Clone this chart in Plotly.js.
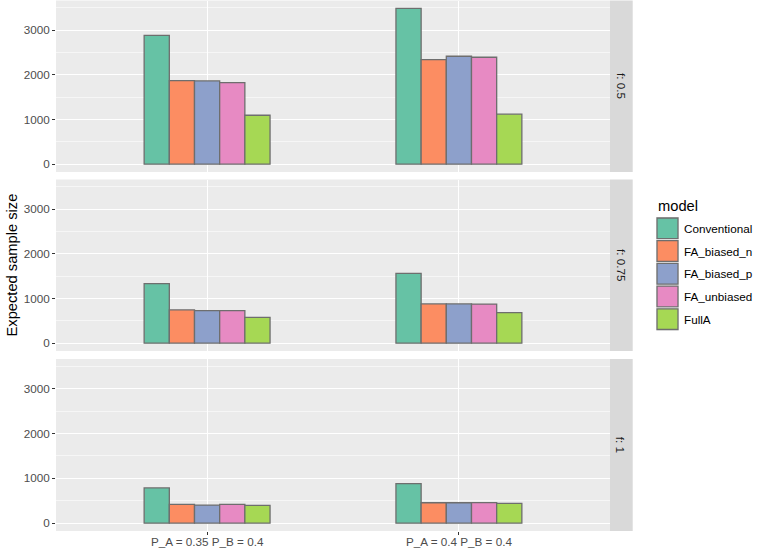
<!DOCTYPE html>
<html>
<head>
<meta charset="utf-8">
<script src="https://cdn.plot.ly/plotly-3.0.1.min.js"></script>
<style>html,body{margin:0;padding:0;background:#fff;}#chart{width:759px;height:550px;}</style>
</head>
<body>
<div id="chart"></div>
<script>
// ---- data ----
const categories = ["P_A = 0.35 P_B = 0.4", "P_A = 0.4 P_B = 0.4"];
const facets = ["f: 0.5", "f: 0.75", "f: 1"];
const models = ["Conventional", "FA_biased_n", "FA_biased_p", "FA_unbiased", "FullA"];
const colors = ["#66C2A5", "#FC8D62", "#8DA0CB", "#E78AC3", "#A6D854"];
// each array: rows = facets (f: 0.5, f: 0.75, f: 1), columns = categories
const conventional = [[2886, 3490], [1332, 1565], [787, 883]];
const faBiasedN    = [[1872, 2342], [745, 880],   [418, 456]];
const faBiasedP    = [[1865, 2416], [730, 880],   [405, 456]];
const faUnbiased   = [[1828, 2394], [730, 877],   [418, 461]];
const fullA        = [[1096, 1119], [580, 685],   [396, 441]];
const seriesValues = [conventional, faBiasedN, faBiasedP, faUnbiased, fullA];
const yTicks = [0, 1000, 2000, 3000];

// ---- layout geometry (pixels) ----
const W = 759, H = 550;
const L = 56, R = 610, T = 0, B = 531;
const pw = R - L, ph = B - T;
const panelsPx = [[0.5, 172], [179.5, 351], [359, 531]];
const px2x = p => (p - L) / pw;
const py2y = p => (B - p) / ph;

const font = "Liberation Sans, Arial, Helvetica, sans-serif";
const yRange = [-174.5, 3664.5];

const traces = [];
facets.forEach((f, i) => {
  const sfx = i === 0 ? "" : String(i + 1);
  models.forEach((m, j) => {
    traces.push({
      type: "bar",
      name: m,
      x: categories,
      y: seriesValues[j][i],
      xaxis: "x" + sfx,
      yaxis: "y" + sfx,
      marker: {color: colors[j], line: {color: "#6e6e6e", width: 1.3}},
      showlegend: false,
      hoverinfo: "x+y+name"
    });
  });
});

const layout = {
  width: W, height: H,
  margin: {l: L, r: W - R, t: T, b: H - B, pad: 0},
  paper_bgcolor: "#ffffff",
  plot_bgcolor: "#EBEBEB",
  barmode: "group",
  bargap: 0.5,
  bargroupgap: 0,
  font: {family: font, color: "#4D4D4D", size: 11.7},
  shapes: [],
  annotations: []
};

facets.forEach((f, i) => {
  const sfx = i === 0 ? "" : String(i + 1);
  const dom = [py2y(panelsPx[i][1]), py2y(panelsPx[i][0])];
  const isBottom = i === facets.length - 1;
  layout["xaxis" + sfx] = {
    domain: [0, 1],
    anchor: "y" + sfx,
    type: "category",
    range: [-0.6, 1.6],
    showgrid: true, gridcolor: "#ffffff", gridwidth: 1.07,
    zeroline: false, showline: false,
    ticks: isBottom ? "outside" : "",
    ticklen: 3, tickwidth: 1.07, tickcolor: "#333333",
    showticklabels: false,
    fixedrange: true
  };
  layout["yaxis" + sfx] = {
    domain: dom,
    anchor: "x" + sfx,
    range: yRange,
    tickvals: yTicks,
    ticktext: yTicks.map(String),
    showgrid: true, gridcolor: "#ffffff", gridwidth: 1.07,
    minor: {tickvals: [500, 1500, 2500, 3500], showgrid: true, gridcolor: "#ffffff", gridwidth: 0.53, ticks: ""},
    zeroline: false, showline: false,
    ticks: "outside", ticklen: 3, tickwidth: 1.07, tickcolor: "#333333",
    tickfont: {family: font, size: 11.7, color: "#4D4D4D"},
    fixedrange: true
  };
  // facet strip
  layout.shapes.push({
    type: "rect", xref: "paper", yref: "paper",
    x0: 1, x1: px2x(632.7), y0: dom[0], y1: dom[1],
    fillcolor: "#D9D9D9", line: {width: 0}, layer: "below"
  });
  layout.annotations.push({
    xref: "paper", yref: "paper",
    x: px2x(621.3), y: (dom[0] + dom[1]) / 2,
    xanchor: "center", yanchor: "middle",
    text: f, textangle: 90, showarrow: false,
    font: {family: font, size: 11.7, color: "#1A1A1A"}
  });
});

// x category labels under bottom panel, positioned through the x3 axis scale
categories.forEach(c => {
  layout.annotations.push({
    xref: "x3", yref: "paper",
    x: c, y: py2y(541),
    xanchor: "center", yanchor: "middle",
    text: c, showarrow: false,
    font: {family: font, size: 11.7, color: "#4D4D4D"}
  });
});

// y axis title
layout.annotations.push({
  xref: "paper", yref: "paper",
  x: px2x(11), y: py2y(265.5),
  xanchor: "center", yanchor: "middle",
  text: "Expected sample size", textangle: -90, showarrow: false,
  font: {family: font, size: 14.7, color: "#000000"}
});

// legend (drawn manually to match key size)
layout.annotations.push({
  xref: "paper", yref: "paper",
  x: px2x(656), y: py2y(206),
  xanchor: "left", yanchor: "middle",
  text: "model", showarrow: false,
  font: {family: font, size: 14.7, color: "#000000"}
});
const keyTop = 217, keyH = 22.7;
models.forEach((m, j) => {
  const y0 = keyTop + j * keyH;
  layout.shapes.push({
    type: "rect", xref: "paper", yref: "paper",
    x0: px2x(656), x1: px2x(679), y0: py2y(y0 + keyH), y1: py2y(y0),
    fillcolor: "#F2F2F2", line: {width: 0}
  });
  layout.shapes.push({
    type: "rect", xref: "paper", yref: "paper",
    x0: px2x(657), x1: px2x(678), y0: py2y(y0 + keyH - 1), y1: py2y(y0 + 1),
    fillcolor: colors[j], line: {color: "#6e6e6e", width: 1.3}
  });
  layout.annotations.push({
    xref: "paper", yref: "paper",
    x: px2x(682), y: py2y(y0 + keyH / 2),
    xanchor: "left", yanchor: "middle",
    text: m, showarrow: false,
    font: {family: font, size: 11.7, color: "#000000"}
  });
});

Plotly.newPlot("chart", traces, layout, {displayModeBar: false, staticPlot: true});
</script>
</body>
</html>
